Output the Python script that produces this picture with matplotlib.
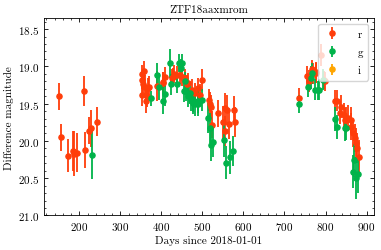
import numpy as np
import matplotlib
matplotlib.use("Agg")
import matplotlib.pyplot as plt
from matplotlib.ticker import MultipleLocator

# r band: days, magnitude, error
r_day = [151, 155, 172, 185, 188, 195, 212, 215, 224, 228, 244,
         353, 353, 354, 356, 358, 360, 362, 364, 367, 369, 390, 403, 405, 410,
         426, 429, 431, 437, 445, 451, 457, 462, 466, 475, 483, 489, 495, 500,
         516, 518, 520, 524, 537, 550, 554, 555, 559, 565, 576, 580,
         736, 755, 760, 766, 770, 776, 777, 790, 796, 798,
         822, 828, 836, 838, 846, 848, 850, 854, 861, 863, 867, 871, 875, 877, 881]
r_mag = [19.40, 19.95, 20.20, 20.13, 20.17, 20.16, 19.33, 20.12, 19.86, 19.83, 19.74,
         19.10, 19.18, 19.39, 19.23, 19.06, 19.27, 19.47, 19.40, 19.29, 19.27, 19.26, 19.21, 19.22, 19.14,
         19.15, 19.14, 19.10, 19.12, 19.11, 19.14, 19.15, 19.24, 19.22, 19.31, 19.36, 19.29, 19.38, 19.18,
         19.45, 19.51, 19.55, 19.78, 19.63, 19.75, 19.56, 19.87, 19.58, 19.77, 19.58, 19.75,
         19.42, 19.13, 19.20, 19.04, 19.10, 19.08, 19.09, 18.85, 19.18, 19.20,
         19.46, 19.46, 19.62, 19.54, 19.65, 19.72, 19.72, 19.69, 19.72, 19.81, 19.90, 19.96, 20.03, 20.10, 20.21]
r_err = [0.18, 0.18, 0.22, 0.27, 0.30, 0.26, 0.20, 0.24, 0.18, 0.25, 0.19,
         0.12, 0.12, 0.14, 0.13, 0.13, 0.15, 0.16, 0.15, 0.14, 0.14, 0.20, 0.14, 0.15, 0.13,
         0.12, 0.12, 0.12, 0.12, 0.12, 0.12, 0.12, 0.13, 0.13, 0.14, 0.14, 0.14, 0.15, 0.15,
         0.15, 0.17, 0.16, 0.18, 0.18, 0.22, 0.20, 0.20, 0.20, 0.20, 0.18, 0.20,
         0.13, 0.14, 0.15, 0.13, 0.14, 0.14, 0.13, 0.15, 0.12, 0.13,
         0.14, 0.14, 0.15, 0.15, 0.16, 0.16, 0.17, 0.17, 0.18, 0.18, 0.18, 0.19, 0.20, 0.20, 0.22]

# g band
g_day = [231, 375, 389, 394, 405, 409, 421, 423, 439, 442, 447, 450, 455, 457,
         461, 465, 469, 471, 476, 478, 481, 490, 490, 498,
         514, 518, 521, 526, 553, 557, 567, 574,
         736, 758, 764, 768, 774, 781, 785, 794,
         823, 828, 848, 851, 869, 868, 875, 878]
g_mag = [20.19, 19.43, 19.12, 19.27, 19.46, 19.37, 18.96, 19.24, 19.24, 18.96, 19.02, 18.95, 19.33, 19.20,
         19.33, 19.40, 19.36, 19.45, 19.49, 19.45, 19.51, 19.51, 19.47, 19.45,
         19.69, 19.83, 20.05, 20.01, 19.99, 20.29, 20.22, 20.14,
         19.50, 19.27, 19.15, 19.09, 19.31, 19.32, 19.31, 19.18,
         19.71, 19.81, 19.83, 19.82, 20.26, 20.41, 20.50, 20.45]
g_err = [0.32, 0.10, 0.16, 0.18, 0.18, 0.16, 0.20, 0.14, 0.12, 0.12, 0.12, 0.12, 0.15, 0.13,
         0.14, 0.14, 0.15, 0.15, 0.15, 0.16, 0.16, 0.15, 0.15, 0.15,
         0.20, 0.20, 0.22, 0.20, 0.22, 0.22, 0.22, 0.20,
         0.12, 0.14, 0.15, 0.14, 0.14, 0.13, 0.14, 0.14,
         0.16, 0.16, 0.17, 0.17, 0.22, 0.22, 0.28, 0.25]

# i band (no detections)
i_day = []
i_mag = []
i_err = []

plt.rcParams['font.family'] = 'serif'
plt.rcParams['font.serif'] = ['cmr10']
plt.rcParams['mathtext.fontset'] = 'cm'
plt.rcParams['axes.formatter.use_mathtext'] = True
plt.rcParams['font.size'] = 8

fig = plt.figure(figsize=(3.81, 2.51), dpi=100)
ax = fig.add_axes([0.1155, 0.1375, 0.866, 0.787])

kw = dict(fmt='o', ms=3.7, elinewidth=1.3, capsize=0, lw=0)
ax.errorbar(r_day, r_mag, yerr=r_err, color='#ff3d0a', label='r', **kw)
ax.errorbar(g_day, g_mag, yerr=g_err, color='#00b34a', label='g', **kw)
ax.errorbar(i_day, i_mag, yerr=i_err, color='#ffa500', label='i', **kw)

ax.set_xlim(114, 918)
ax.set_ylim(21.0, 18.35)
ax.xaxis.set_major_locator(MultipleLocator(100))
ax.xaxis.set_minor_locator(MultipleLocator(20))
ax.yaxis.set_major_locator(MultipleLocator(0.5))
ax.yaxis.set_minor_locator(MultipleLocator(0.1))
ax.tick_params(which='both', direction='in', top=True, right=True, labelsize=8)
ax.tick_params(which='major', length=3, width=0.6)
ax.tick_params(which='minor', length=1.5, width=0.5)
for s in ax.spines.values():
    s.set_linewidth(0.6)

ax.set_title("ZTF18aaxmrom", fontsize=8, pad=4)
ax.set_xlabel("Days since 2018-01-01", fontsize=8, labelpad=2)
ax.set_ylabel("Difference magnitude", fontsize=8, labelpad=3)
ax.legend(loc='upper right', labelspacing=0.75, handlelength=1.5,
          handletextpad=1.5, borderpad=0.5)

fig.savefig("out.png", dpi=100)
